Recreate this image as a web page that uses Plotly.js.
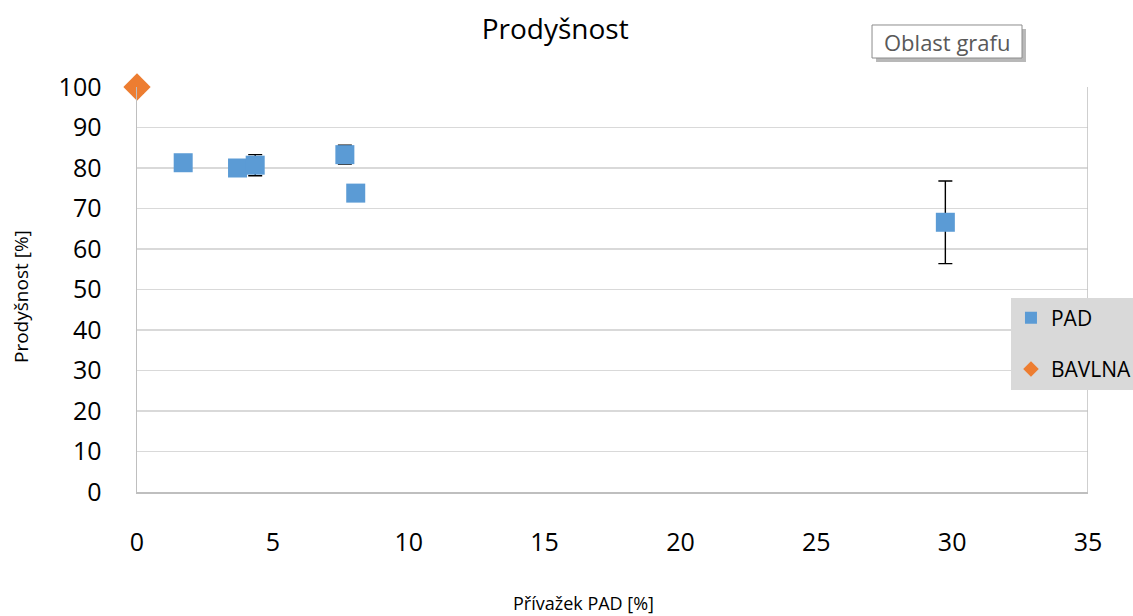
<!DOCTYPE html>
<html>
<head>
<meta charset="utf-8">
<script src="https://cdn.plot.ly/plotly-3.0.1.min.js"></script>
<style>
  html, body { margin: 0; padding: 0; background: #fff; }
  #chart { width: 1133px; height: 616px; }
</style>
</head>
<body>
<div id="chart"></div>
<script>
// Přívažek PAD [%] a prodyšnost [%] jednotlivých vzorků
const padX = [1.7, 3.7, 4.35, 7.65, 8.05, 29.75];
const padY = [81.3, 80.0, 80.7, 83.3, 73.8, 66.6];
const padErr = [0, 0, 2.6, 2.3, 0, 10.2];

const bavlnaX = [0];
const bavlnaY = [100];
const bavlnaErr = [1.5];

const xTicks = [0, 5, 10, 15, 20, 25, 30, 35];
const yTicks = [0, 10, 20, 30, 40, 50, 60, 70, 80, 90, 100];

const FONT = '"Open Sans", "Noto Sans", "DejaVu Sans", sans-serif';

const traces = [
  {
    name: 'PAD', legendgroup: 'pad', x: padX, y: padY, type: 'scatter', mode: 'markers',
    marker: { symbol: 'square', size: 19, color: '#5b9bd5' },
    error_y: { type: 'data', array: padErr, visible: true, color: '#000', thickness: 1.4, width: 7 },
    cliponaxis: false
  },
  {
    name: 'BAVLNA', legendgroup: 'bavlna', x: bavlnaX, y: bavlnaY, type: 'scatter', mode: 'markers',
    marker: { symbol: 'diamond', size: 21, color: '#ed7d31' },
    error_y: { type: 'data', array: bavlnaErr, visible: true, color: '#000', thickness: 1.4, width: 7 },
    cliponaxis: false
  }
];

// plot area: 137..1088 px wide, 87..492 px tall
const layout = {
  width: 1133, height: 616,
  margin: { l: 137, r: 45, t: 87, b: 124, autoexpand: false },
  paper_bgcolor: '#fff', plot_bgcolor: '#fff',
  font: { family: FONT, color: '#000' },
  title: { text: 'Prodyšnost', font: { size: 28, color: '#000' }, x: 0.490, xanchor: 'center', y: 0.953, yanchor: 'middle' },
  xaxis: {
    range: [0, 35], tickvals: xTicks, ticktext: xTicks.map(String),
    showgrid: false, zeroline: false, showline: true, linecolor: '#bfbfbf', linewidth: 1.5,
    ticks: '', tickfont: { size: 25, color: '#000' }, ticklabelstandoff: 27
  },
  yaxis: {
    range: [0, 100], tickvals: yTicks, ticktext: yTicks.map(String),
    showgrid: true, gridcolor: '#d9d9d9', gridwidth: 1.5,
    zeroline: false, showline: true, linecolor: '#bfbfbf', linewidth: 1.5,
    ticks: '', tickfont: { size: 25, color: '#000' }, ticklabelstandoff: 29
  },
  legend: {
    x: 0.919, xanchor: 'left', y: 0.48, yanchor: 'top',
    bgcolor: '#d9d9d9', borderwidth: 0,
    font: { size: 21, color: '#000' },
    traceorder: 'grouped', tracegroupgap: 21,
    itemsizing: 'constant'
  },
  shapes: [
    // right border of the plot area
    { type: 'line', xref: 'x', yref: 'y', x0: 35, x1: 35, y0: 0, y1: 100, line: { color: '#bfbfbf', width: 1.5 } },
    // chart-area label box with its drop shadow
    { type: 'rect', xref: 'paper', yref: 'paper', x0: 0.7771, x1: 0.9348, y0: 1.0617, y1: 1.1432,
      fillcolor: 'rgba(0,0,0,0.28)', line: { width: 0 } },
    { type: 'rect', xref: 'paper', yref: 'paper', x0: 0.7729, x1: 0.9306, y0: 1.0716, y1: 1.1531,
      fillcolor: '#fff', line: { color: '#8c8c8c', width: 1 } }
  ],
  annotations: [
    { text: 'Oblast grafu', xref: 'paper', yref: 'paper', x: 0.8517, y: 1.111, xanchor: 'center', yanchor: 'middle',
      showarrow: false, font: { size: 22, color: '#595959' } },
    // axis titles
    { text: 'Přívažek PAD [%]', xref: 'paper', yref: 'paper', x: (583 - 137) / 951, y: (492 - 603) / 405,
      xanchor: 'center', yanchor: 'middle', showarrow: false, font: { size: 18, color: '#000' } },
    { text: 'Prodyšnost [%]', xref: 'paper', yref: 'paper', x: (21 - 137) / 951, y: (492 - 297) / 405,
      xanchor: 'center', yanchor: 'middle', textangle: -90, showarrow: false, font: { size: 19, color: '#000' } }
  ],
  showlegend: true
};

Plotly.newPlot('chart', traces, layout, { staticPlot: true, displayModeBar: false });
</script>
</body>
</html>
